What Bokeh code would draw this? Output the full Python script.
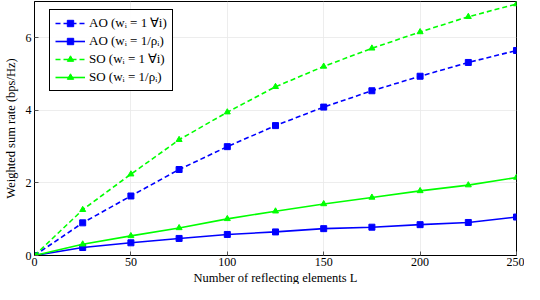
from bokeh.plotting import figure
from bokeh.models import Range1d, FixedTicker, Legend, LegendItem, Title
from bokeh.embed import file_html
from bokeh.resources import INLINE

L = [0, 25, 50, 75, 100, 125, 150, 175, 200, 225, 250]
ao_equal = [0, 0.90, 1.64, 2.37, 3.00, 3.58, 4.09, 4.54, 4.94, 5.32, 5.65]
ao_prop = [0, 0.22, 0.35, 0.47, 0.58, 0.65, 0.74, 0.78, 0.85, 0.91, 1.06]
so_equal = [0, 1.26, 2.24, 3.19, 3.95, 4.65, 5.21, 5.71, 6.16, 6.58, 6.93]
so_prop = [0, 0.31, 0.54, 0.76, 1.01, 1.22, 1.42, 1.60, 1.78, 1.94, 2.15]

labels = ["AO (wᵢ\u2005=\u20051\u2009∀i)", "AO (wᵢ\u2005=\u20051/ρᵢ)",
          "SO (wᵢ\u2005=\u20051\u2009∀i)", "SO (wᵢ\u2005=\u20051/ρᵢ)"]
x_ticks = [0, 50, 100, 150, 200, 250]
y_ticks = [0, 2, 4, 6]
x_label = "Number of reflecting elements L"
y_label = "Weighted sum rate (bps/Hz)"

FONT = "Liberation Serif"
BLUE = "#0000ff"
GREEN = "#00ff00"

p = figure(width=524, height=284, output_backend="svg", toolbar_location=None,
           x_range=Range1d(0, 250), y_range=Range1d(0, 7),
           min_border_left=29, min_border_right=8, min_border_top=1, min_border_bottom=0)

p.outline_line_color = "black"
p.outline_line_width = 1
p.outline_line_alpha = 1

for ax in (p.xaxis[0], p.yaxis[0]):
    ax.major_label_text_font = FONT
    ax.major_label_text_font_size = "12px"
    ax.major_label_text_color = "black"
    ax.axis_label_text_font = FONT
    ax.axis_label_text_font_size = "12.5px"
    ax.axis_label_text_font_style = "normal"
    ax.axis_label_text_color = "black"
    ax.major_tick_in = 4
    ax.major_tick_out = 0
    ax.minor_tick_line_color = None
    ax.axis_line_color = "black"
    ax.major_tick_line_color = "#555555"

p.xaxis.ticker = FixedTicker(ticks=x_ticks)
p.yaxis.ticker = FixedTicker(ticks=y_ticks)
p.yaxis.axis_label = y_label
p.xaxis.major_label_standoff = 2
p.yaxis.major_label_standoff = 3
p.yaxis.axis_label_standoff = 5

xt = Title(text=x_label, align="center", text_font=FONT, text_font_size="12.5px",
           text_font_style="normal", text_color="black", standoff=0, offset=0)
p.add_layout(xt, "below")

p.xgrid.ticker = FixedTicker(ticks=x_ticks)
p.ygrid.ticker = FixedTicker(ticks=y_ticks)
p.grid.grid_line_color = "#e8e8e8"
p.grid.grid_line_width = 0.8

series = [
    (ao_equal, BLUE, "5 3", "square"),
    (ao_prop, BLUE, "solid", "square"),
    (so_equal, GREEN, "5 3", "triangle"),
    (so_prop, GREEN, "solid", "triangle"),
]

items = []
for (ys, col, dash, mk), lab in zip(series, labels):
    r1 = p.line(L, ys, line_color=col, line_width=1.6, line_dash=dash)
    r2 = p.scatter(L, ys, marker=mk, size=6, fill_color=col, line_color=col)
    items.append(LegendItem(label=lab, renderers=[r1, r2]))

legend = Legend(items=items, location=(15, 164))
legend.label_text_font = FONT
legend.label_text_font_size = "13px"
legend.label_text_color = "black"
legend.border_line_color = "black"
legend.border_line_width = 1
legend.border_line_alpha = 1
legend.padding = 5
legend.spacing = 2
legend.label_height = 16
legend.glyph_height = 16
legend.glyph_width = 30
legend.label_standoff = 4
legend.margin = 0
p.add_layout(legend, "center")

open("out.html", "w").write(file_html(p, INLINE))
